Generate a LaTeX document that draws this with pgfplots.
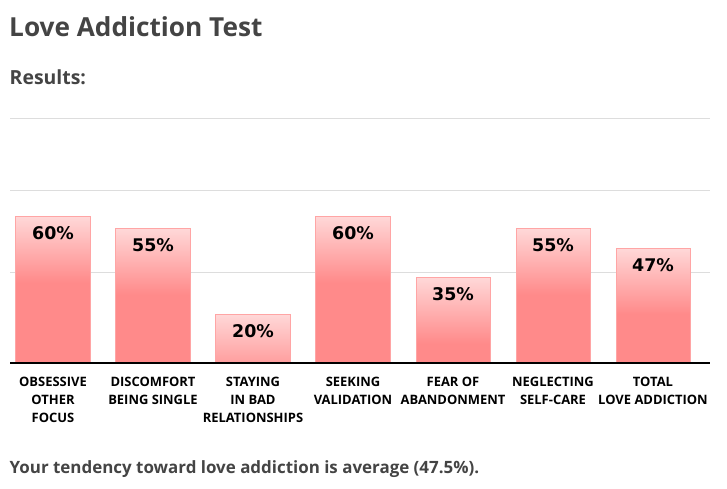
\documentclass[border=0pt]{standalone}
\usepackage{pgfplots}
\pgfplotsset{compat=1.18}
\usepackage{fontspec}
\setmainfont{Open Sans}
\newfontfamily\dejavu{DejaVu Sans}
\definecolor{titlegray}{HTML}{444444}
\definecolor{pinktop}{HTML}{FFD8D8}
\definecolor{pinksolid}{HTML}{FF8A8A}
\definecolor{pinkmid}{HTML}{FF9E9E}
\definecolor{pinkborder}{HTML}{FFA5A5}
\definecolor{gridgray}{HTML}{DDDDDD}
% gradient of fixed length (about 66px) at the top of each bar
\pgfdeclareverticalshading{barsixty}{100bp}{color(0bp)=(pinksolid); color(52.5bp)=(pinksolid); color(75bp)=(pinktop); color(100bp)=(pinktop)}
\pgfdeclareverticalshading{barfiftyfive}{100bp}{color(0bp)=(pinksolid); color(50.5bp)=(pinksolid); color(75bp)=(pinktop); color(100bp)=(pinktop)}
\pgfdeclareverticalshading{barfortyseven}{100bp}{color(0bp)=(pinksolid); color(46.3bp)=(pinksolid); color(75bp)=(pinktop); color(100bp)=(pinktop)}
\pgfdeclareverticalshading{barthirtyfive}{100bp}{color(0bp)=(pinksolid); color(36.4bp)=(pinksolid); color(75bp)=(pinktop); color(100bp)=(pinktop)}
\pgfdeclareverticalshading{bartwenty}{100bp}{color(0bp)=(pinkmid); color(25bp)=(pinkmid); color(75bp)=(pinktop); color(100bp)=(pinktop)}
\begin{document}
\begin{tikzpicture}
\path[use as bounding box] (0,0) rectangle (727bp,489bp);
\begin{axis}[
  scale only axis, width=700bp, height=244.5bp,
  xmin=-0.43, xmax=6.57, ymin=0, ymax=100,
  at={(10bp,126bp)}, anchor=south west,
  axis line style={draw=none},
  major tick length=0pt,
  clip=false,
  ybar, bar width=74bp,
  ytick={37,70.6,100}, yticklabels={},
  ymajorgrids, grid style={gridgray, line width=1.6bp},
  xtick={0,1,2,3,4,5,6},
  xticklabels={{OBSESSIVE\\OTHER\\FOCUS},{DISCOMFORT\\BEING SINGLE},{STAYING\\IN BAD\\RELATIONSHIPS},{SEEKING\\VALIDATION},{FEAR OF\\ABANDONMENT},{NEGLECTING\\SELF-CARE},{TOTAL\\LOVE ADDICTION}},
  xticklabel style={anchor=north, align=center, inner sep=0pt, yshift=-14bp,
    font=\fontsize{13}{18}\selectfont\bfseries, text=black},
  /pgf/number format/assume math mode=true,
  nodes near coords align={anchor=base},
  every node near coord/.append style={anchor=base, yshift=-23bp, inner sep=0pt,
    font=\dejavu\bfseries\fontsize{17.5}{20}\selectfont, text=black},
]
\addplot[bar shift=0pt, draw=none, shade, shading=barsixty] coordinates {(0,60)};
\addplot[bar shift=0pt, draw=none, shade, shading=barfiftyfive] coordinates {(1,55)};
\addplot[bar shift=0pt, draw=none, shade, shading=bartwenty] coordinates {(2,20)};
\addplot[bar shift=0pt, draw=none, shade, shading=barsixty] coordinates {(3,60)};
\addplot[bar shift=0pt, draw=none, shade, shading=barthirtyfive] coordinates {(4,35)};
\addplot[bar shift=0pt, draw=none, shade, shading=barfiftyfive] coordinates {(5,55)};
\addplot[bar shift=0pt, draw=none, shade, shading=barfortyseven] coordinates {(6,47)};
\addplot[bar shift=0pt, fill=none, draw=pinkborder, line width=1bp,
  nodes near coords={\pgfmathprintnumber{\pgfplotspointmeta}\%}]
  coordinates {(0,60)(1,55)(2,20)(3,60)(4,35)(5,55)(6,47)};
\draw[black, line width=2bp] (axis cs:-0.43,0) -- (axis cs:6.57,0);
\end{axis}
\node[anchor=base west, inner sep=0pt, text=titlegray, font=\fontsize{26.3}{30}\selectfont\bfseries] at (9bp,452bp) {Love Addiction Test};
\node[anchor=base west, inner sep=0pt, text=titlegray, font=\fontsize{19.5}{22}\selectfont\bfseries] at (9.5bp,404bp) {Results:};
\node[anchor=base west, inner sep=0pt, text=titlegray, font=\fontsize{17}{20}\selectfont\bfseries] at (9.5bp,16bp) {Your tendency toward love addiction is average (47.5\%).};
\end{tikzpicture}
\end{document}
